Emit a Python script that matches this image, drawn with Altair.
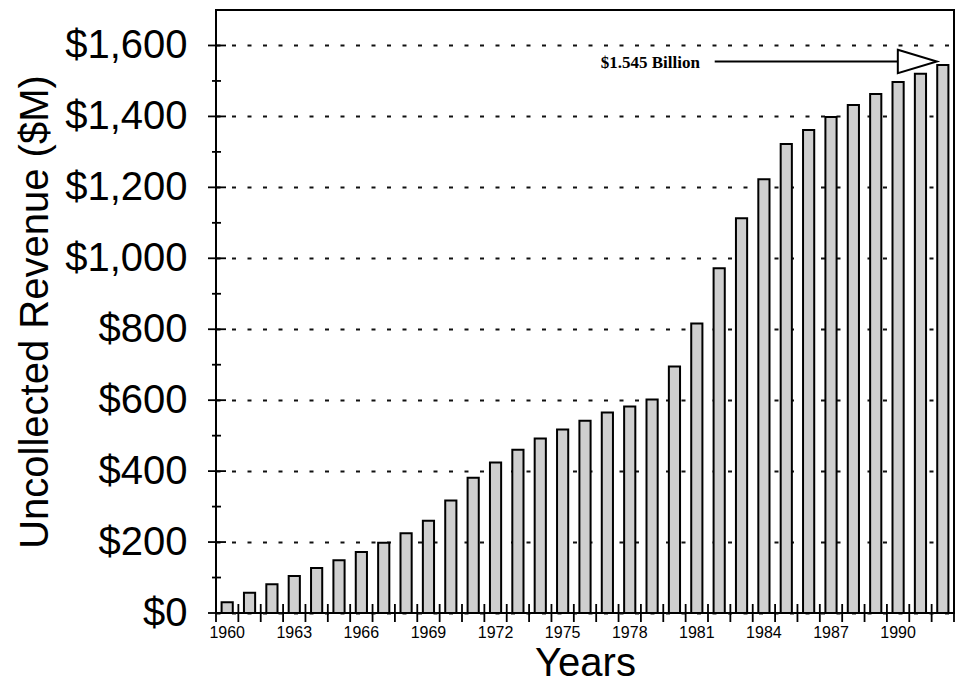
import altair as alt
import pandas as pd

# Uncollected revenue by year, in millions of dollars
YEARS = list(range(1960, 1993))
REVENUE = [30, 57, 81, 104, 127, 149, 172, 198, 225, 260, 317,
           381, 424, 460, 492, 517, 542, 565, 582, 602, 695,
           816, 972, 1113, 1223, 1322, 1362, 1398, 1432, 1463, 1497, 1520, 1545]

X_LABELS = [1960, 1963, 1966, 1969, 1972, 1975, 1978, 1981, 1984, 1987, 1990]
Y_MAJOR = [0, 200, 400, 600, 800, 1000, 1200, 1400, 1600]
Y_MINOR = [100, 300, 500, 700, 900, 1100, 1300, 1500]
Y_MAX = 1700

ANNOT_TEXT = "$1.545 Billion"
ANNOT_Y = 1555
ANNOT_TEXT_X = 1976.7
ARROW_FROM = 1981.8
ARROW_TO = 1990.0
ARROW_HEAD_X = 1990.86

WIDTH = 738
HEIGHT = 603
SANS = "Liberation Sans"

bars_df = pd.DataFrame({"year": YEARS, "revenue": REVENUE})
edges_df = pd.DataFrame({"edge": [y - 0.5 for y in YEARS] + [YEARS[-1] + 0.5]})
major_df = pd.DataFrame({"revenue": Y_MAJOR})
minor_df = pd.DataFrame({"revenue": Y_MINOR})
line_df = pd.DataFrame({"x": [ARROW_FROM], "x2": [ARROW_TO], "revenue": [ANNOT_Y]})
head_df = pd.DataFrame({"x": [ARROW_HEAD_X], "revenue": [ANNOT_Y]})
text_df = pd.DataFrame({"x": [ANNOT_TEXT_X], "revenue": [ANNOT_Y], "t": [ANNOT_TEXT]})

y_scale = alt.Scale(domain=[0, Y_MAX], nice=False, zero=True)
xq_scale = alt.Scale(domain=[YEARS[0] - 0.5, YEARS[-1] + 0.5], nice=False, zero=False)

y_axis = alt.Axis(
    values=Y_MAJOR, labelExpr="'$' + format(datum.value, ',')",
    labelFont=SANS, labelFontSize=40, labelColor="black",
    labelPadding=29, ticks=False, domain=False,
    grid=True, gridColor="#111", gridWidth=2, gridDash=[4, 11.5],
    title="Uncollected Revenue ($M)", titleFont=SANS, titleFontSize=40,
    titleFontWeight="normal", titleColor="black", titlePadding=9,
)
Y = alt.Y("revenue:Q", scale=y_scale, axis=y_axis)

bars = alt.Chart(bars_df).mark_bar(
    fill="#cfcfcf", stroke="black", strokeWidth=2
).encode(
    x=alt.X(
        "year:O",
        scale=alt.Scale(paddingInner=0.5, paddingOuter=0.25),
        axis=alt.Axis(
            values=X_LABELS, labelAngle=0, labelFont=SANS, labelFontSize=16,
            labelColor="black", labelPadding=11, ticks=False, domain=False,
            grid=False, title="Years", titleFont=SANS, titleFontSize=40,
            titleFontWeight="normal", titleColor="black", titlePadding=3,
        ),
    ),
    y=Y,
)

# tick marks crossing the axes
x_ticks = alt.Chart(edges_df).mark_rule(color="black", strokeWidth=1.8).encode(
    x=alt.X("edge:Q", scale=xq_scale, axis=None),
    y=alt.value(HEIGHT - 9),
    y2=alt.value(HEIGHT + 9),
)
y_major = alt.Chart(major_df).mark_rule(color="black", strokeWidth=1.8).encode(
    y=Y,
    x=alt.value(-8),
    x2=alt.value(10),
)
y_minor = alt.Chart(minor_df).mark_rule(color="black", strokeWidth=1.8).encode(
    y=Y,
    x=alt.value(-4),
    x2=alt.value(5),
)

# "$1.545 Billion" arrow annotation
arrow_line = alt.Chart(line_df).mark_rule(color="black", strokeWidth=2).encode(
    x=alt.X("x:Q", scale=xq_scale, axis=None),
    x2="x2:Q",
    y=Y,
)
arrow_head = alt.Chart(head_df).mark_point(
    shape="M-1,-0.6L1,0L-1,0.6Z", size=1521, filled=True,
    fill="white", stroke="black", strokeWidth=2, opacity=1,
).encode(
    x=alt.X("x:Q", scale=xq_scale, axis=None),
    y=Y,
)
label = alt.Chart(text_df).mark_text(
    font="Liberation Serif", fontSize=17, fontWeight="bold",
    align="left", baseline="middle", dy=2, color="black",
).encode(
    x=alt.X("x:Q", scale=xq_scale, axis=None),
    y=Y,
    text="t:N",
)

chart = alt.layer(
    bars, x_ticks, y_major, y_minor, arrow_line, arrow_head, label
).resolve_scale(
    x="independent"
).properties(
    width=WIDTH,
    height=HEIGHT,
    background="white",
    autosize=alt.AutoSizeParams(type="none"),
    padding={"left": 216, "top": 10, "right": 1, "bottom": 74},
).configure_view(
    stroke="black", strokeWidth=2
)

chart.save("out.html", embed_options={"renderer": "svg", "actions": False})
